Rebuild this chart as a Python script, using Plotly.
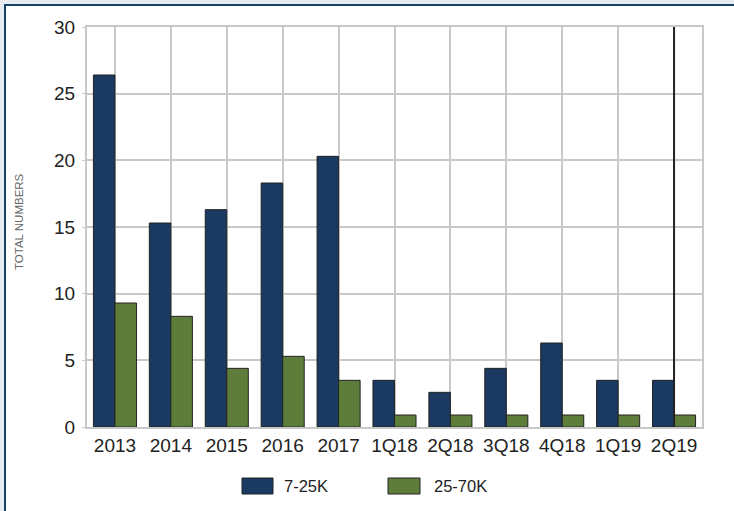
import plotly.graph_objects as go

categories = ["2013", "2014", "2015", "2016", "2017", "1Q18", "2Q18", "3Q18", "4Q18", "1Q19", "2Q19"]
series_low = [26.4, 15.3, 16.3, 18.3, 20.3, 3.5, 2.6, 4.4, 6.3, 3.5, 3.5]
series_high = [9.3, 8.3, 4.4, 5.3, 3.5, 0.9, 0.9, 0.9, 0.9, 0.9, 0.9]
series_names = ["7-25K", "25-70K"]
y_ticks = [0, 5, 10, 15, 20, 25, 30]
marker_category = "2Q19"
y_title = "TOTAL NUMBERS"

BLUE = "#1b3a62"
GREEN = "#5e7d3a"
EDGE = "#222222"
GRID = "#c8c8c8"
FONT = "Liberation Sans, Arial, sans-serif"

fig = go.Figure()
fig.add_trace(go.Bar(x=categories, y=series_low, name=series_names[0],
                     marker=dict(color=BLUE, line=dict(color=EDGE, width=1))))
fig.add_trace(go.Bar(x=categories, y=series_high, name=series_names[1],
                     marker=dict(color=GREEN, line=dict(color=EDGE, width=1))))

# plot area: x 87..702 px, y 27..427 px
PW, PH, L, T = 615.0, 400.0, 87.0, 27.0
def px(xp):
    return (xp - L) / PW
def py(yp):
    return (T + PH - yp) / PH

shapes = [
    # white card with top/left dark blue border
    dict(type="rect", xref="paper", yref="paper", layer="below",
         x0=px(5), x1=px(760), y0=py(540), y1=py(5),
         fillcolor="white", line=dict(color="#17426a", width=2)),
    # vertical marker line
    dict(type="line", xref="x", yref="paper", x0=marker_category, x1=marker_category,
         y0=0, y1=1, line=dict(color="#222222", width=2)),
    # legend swatches
    dict(type="rect", xref="paper", yref="paper", x0=px(242), x1=px(273), y0=py(494), y1=py(478),
         fillcolor=BLUE, line=dict(color=EDGE, width=1)),
    dict(type="rect", xref="paper", yref="paper", x0=px(388), x1=px(420), y0=py(494), y1=py(478),
         fillcolor=GREEN, line=dict(color=EDGE, width=1)),
]

annotations = [
    dict(text=series_names[0], xref="paper", yref="paper", x=px(282), y=py(486),
         xanchor="left", yanchor="middle", showarrow=False,
         font=dict(family=FONT, size=16.5, color="#222222")),
    dict(text=series_names[1], xref="paper", yref="paper", x=px(432), y=py(486),
         xanchor="left", yanchor="middle", showarrow=False,
         font=dict(family=FONT, size=16.5, color="#222222")),
    dict(text=y_title, xref="paper", yref="paper", x=px(19), y=py(222),
         xanchor="center", yanchor="middle", textangle=-90, showarrow=False,
         font=dict(family=FONT, size=11.5, color="#666666")),
]

fig.update_layout(
    width=734, height=511,
    margin=dict(l=87, r=32, t=27, b=84),
    paper_bgcolor="#e8ecf0",
    plot_bgcolor="rgba(0,0,0,0)",
    barmode="group", bargap=0.23, bargroupgap=0,
    showlegend=False,
    shapes=shapes, annotations=annotations,
    font=dict(family=FONT, size=19, color="#222222"),
    xaxis=dict(showgrid=True, gridcolor=GRID, gridwidth=1.5, showline=True, linecolor=GRID,
               linewidth=2, mirror=True, ticks="", tickfont=dict(size=19, color="#222222"),
               tickangle=0),
    yaxis=dict(range=[0, 30], tickvals=y_ticks, showgrid=True, gridcolor=GRID, gridwidth=1.5,
               showline=True, linecolor=GRID, linewidth=2, mirror=True, ticks="outside",
               ticklen=3, tickcolor=GRID, ticklabelstandoff=3, zeroline=False,
               tickfont=dict(size=19, color="#222222")),
)

fig.write_html("out.html", config={"displayModeBar": False},
               post_script="document.body.style.margin='0';document.body.style.overflow='hidden';")
